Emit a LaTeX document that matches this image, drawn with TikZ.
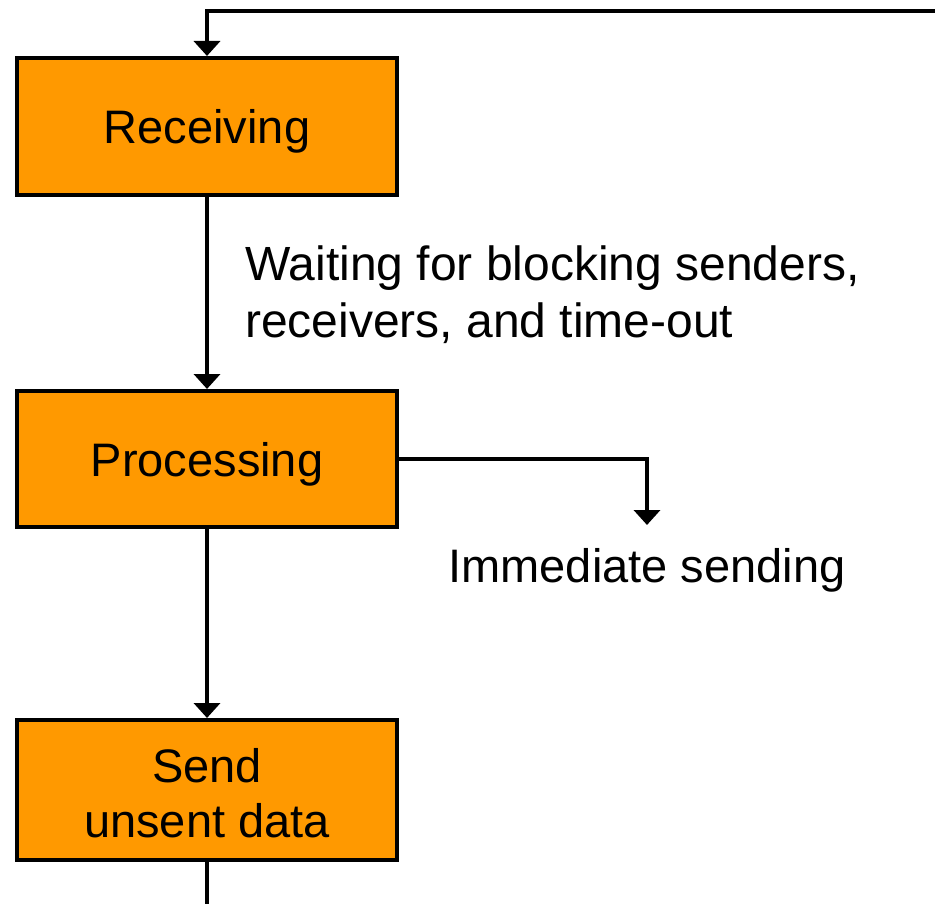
\documentclass[tikz,border=0pt]{standalone}
\usepackage{fontspec}
\setmainfont{Liberation Sans}
\usetikzlibrary{arrows.meta}
\definecolor{stateorange}{RGB}{255,153,0}
\tikzset{
  state/.style={draw=black, line width=4pt, fill=stateorange,
    minimum width=380pt, inner sep=0pt, align=center,
    font=\fontsize{47}{55}\selectfont},
  oneline/.style={text height=34pt, text depth=0pt},
  flow/.style={draw=black, line width=4.2pt, -{Triangle[width=26pt,length=15pt]}},
  plainflow/.style={draw=black, line width=4.2pt},
  note/.style={inner sep=0pt, align=left, font=\fontsize{48}{57}\selectfont},
}
\begin{document}
\begin{tikzpicture}[x=1pt, y=-1pt]
  \useasboundingbox (0,0) rectangle (935,904);

  % the three states of the loop
  \node[state, oneline, minimum height=137pt] (rec)  at (207,126.5) {Receiving};
  \node[state, oneline, minimum height=136pt] (proc) at (207,459) {Processing};
  \node[state, minimum height=140pt, text height=95pt, text depth=0pt] (send) at (207,790) {Send\\unsent data};

  % labels
  \node[note, anchor=west] (wait) at (245,295)
    {Waiting for blocking senders,\\receivers, and time-out};
  \node[note, anchor=base, font=\fontsize{47}{57}\selectfont] (imm) at (647,582) {Immediate sending};

  % free ends of the connectors
  \coordinate (loopin) at (935,11);
  \coordinate (immtip) at (647,525);
  \coordinate (loopout) at (207,904);

  % connectors
  \draw[flow] (loopin) -| (rec.north);
  \draw[flow] (rec) -- (proc);
  \draw[flow] (proc.east) -| (immtip);
  \draw[flow] (proc) -- (send);
  \draw[plainflow] (send.south) -- (loopout);
\end{tikzpicture}
\end{document}
